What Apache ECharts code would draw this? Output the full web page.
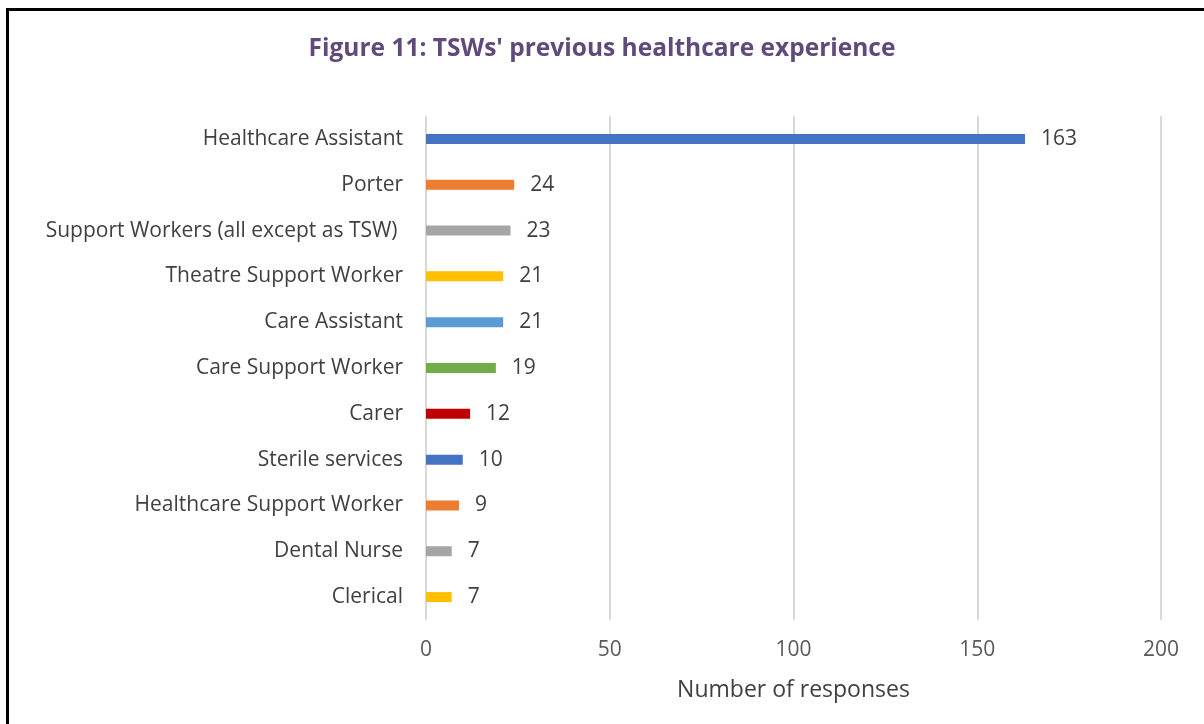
<!DOCTYPE html>
<html><head><meta charset="utf-8">
<script src="https://cdn.jsdelivr.net/npm/echarts@6/dist/echarts.min.js"></script>
<style>html,body{margin:0;padding:0;background:#fff}#c{width:1204px;height:724px;position:relative}
#frame{position:absolute;left:6px;top:8px;width:1300px;height:800px;border-left:3px solid #000;border-top:3px solid #000;pointer-events:none}</style>
</head><body><div id="c"></div><div id="frame"></div>
<script>
const categories = ["Healthcare Assistant","Porter","Support Workers (all except as TSW) ","Theatre Support Worker","Care Assistant","Care Support Worker","Carer","Sterile services","Healthcare Support Worker","Dental Nurse","Clerical"];
const values = [163,24,23,21,21,19,12,10,9,7,7];
const barColors = ["#4472C4","#ED7D31","#A5A5A5","#FFC000","#5B9BD5","#70AD47","#C00000","#4472C4","#ED7D31","#A5A5A5","#FFC000"];
const xTicks = [0,50,100,150,200];
const titleText = "Figure 11: TSWs' previous healthcare experience";
const xAxisTitle = "Number of responses";

const font = "'Open Sans', sans-serif";
const chart = echarts.init(document.getElementById('c'));
chart.setOption({
  animation:false,
  title:{text:titleText,left:'center',top:32,textStyle:{color:'#604A7B',fontSize:24.5,fontWeight:'bold',fontFamily:font}},
  grid:{left:426,right:43,top:116,bottom:104,containLabel:false},
  xAxis:{type:'value',min:xTicks[0],max:xTicks[xTicks.length-1],interval:50,
    name:xAxisTitle,nameLocation:'middle',nameGap:59,
    nameTextStyle:{color:'#404040',fontSize:23,fontFamily:font},
    axisLine:{show:false},axisTick:{show:false},
    axisLabel:{color:'#595959',fontSize:21,fontFamily:font,margin:20},
    splitLine:{lineStyle:{color:'#D9D9D9',width:2}}},
  yAxis:{type:'category',inverse:true,data:categories,
    axisLine:{show:false},axisTick:{show:false},
    axisLabel:{color:'#404040',fontSize:21,fontFamily:font,margin:23}},
  series:[{type:'bar',barWidth:10,
    data:values.map((v,i)=>({value:v,itemStyle:{color:barColors[i]}})),
    label:{show:true,position:'right',distance:16,color:'#404040',fontSize:21,fontFamily:font}}]
});
</script></body></html>
